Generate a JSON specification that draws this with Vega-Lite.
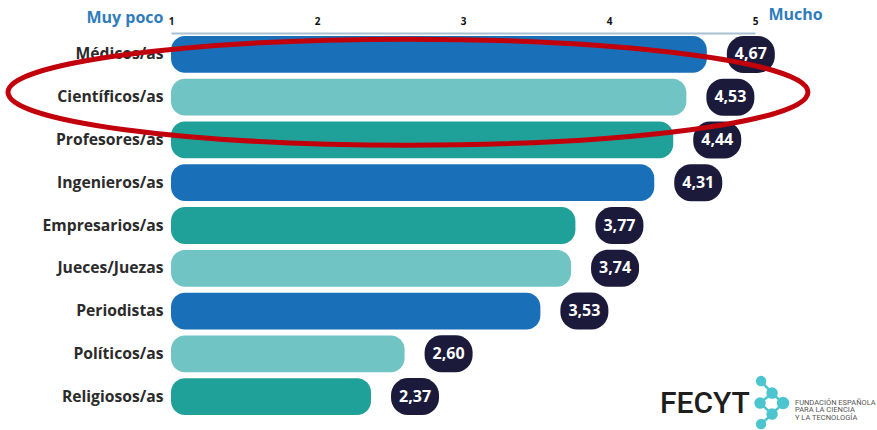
{
  "$schema": "https://vega.github.io/schema/vega-lite/v6.json",
  "width": 584,
  "height": 385,
  "autosize": {"type": "none"},
  "padding": {"left": 171, "top": 33, "right": 122, "bottom": 12},
  "background": "white",
  "config": {
    "view": {"stroke": null},
    "locale": {"number": {"decimal": ",", "thousands": ".", "grouping": [3], "currency": ["", " €"]}},
    "font": "Open Sans"
  },
  "data": {
    "values": [
      {"profesion": "Médicos/as", "valor": 4.67},
      {"profesion": "Científicos/as", "valor": 4.53},
      {"profesion": "Profesores/as", "valor": 4.44},
      {"profesion": "Ingenieros/as", "valor": 4.31},
      {"profesion": "Empresarios/as", "valor": 3.77},
      {"profesion": "Jueces/Juezas", "valor": 3.74},
      {"profesion": "Periodistas", "valor": 3.53},
      {"profesion": "Políticos/as", "valor": 2.60},
      {"profesion": "Religiosos/as", "valor": 2.37}
    ]
  },
  "encoding": {
    "y": {
      "field": "profesion",
      "type": "nominal",
      "sort": null,
      "scale": {
        "domain": ["Médicos/as", "Científicos/as", "Profesores/as", "Ingenieros/as", "Empresarios/as", "Jueces/Juezas", "Periodistas", "Políticos/as", "Religiosos/as"],
        "paddingInner": 0.14,
        "paddingOuter": 0.07
      },
      "axis": {
        "title": "Muy poco",
        "titleAngle": 0,
        "titleAlign": "right",
        "titleBaseline": "middle",
        "titleX": -8,
        "titleY": -16,
        "titleColor": "#2f7cbd",
        "titleFont": "Open Sans",
        "titleFontSize": 16,
        "titleFontWeight": "bold",
        "domain": false,
        "ticks": false,
        "grid": false,
        "labelPadding": 8,
        "labelFont": "Open Sans",
        "labelFontSize": 15.7,
        "labelFontWeight": "bold",
        "labelColor": "#2b2b2b"
      }
    }
  },
  "layer": [
    {
      "mark": {"type": "bar", "cornerRadiusEnd": 14},
      "encoding": {
        "x": {
          "field": "valor",
          "type": "quantitative",
          "scale": {"domain": [1, 5], "nice": false, "zero": false},
          "axis": {
            "orient": "top",
            "values": [1, 2, 3, 4, 5],
            "format": ".0f",
            "title": "Mucho",
            "titleX": 597,
            "titleY": -19,
            "titleAlign": "left",
            "titleBaseline": "middle",
            "titleColor": "#2f7cbd",
            "titleFont": "Open Sans",
            "titleFontSize": 16,
            "titleFontWeight": "bold",
            "domainColor": "#a9c1d2",
            "domainWidth": 2,
            "ticks": false,
            "grid": false,
            "labelFlush": false,
            "labelPadding": 7,
            "labelFont": "Open Sans",
            "labelFontSize": 10,
            "labelFontWeight": "bold",
            "labelColor": "#111111"
          }
        },
        "x2": {"datum": 1},
        "color": {
          "field": "profesion",
          "type": "nominal",
          "legend": null,
          "scale": {
            "domain": ["Médicos/as", "Científicos/as", "Profesores/as", "Ingenieros/as", "Empresarios/as", "Jueces/Juezas", "Periodistas", "Políticos/as", "Religiosos/as"],
            "range": ["#1a70b8", "#70c4c4", "#1fa199", "#1a70b8", "#1fa199", "#70c4c4", "#1a70b8", "#70c4c4", "#1fa199"]
          }
        }
      }
    },
    {
      "mark": {
        "type": "point",
        "shape": "M 0.74 -0.37 L 1.02 -0.37 C 1.2078 -0.37 1.36 -0.2178 1.36 -0.03 L 1.36 0.03 C 1.36 0.2178 1.2078 0.37 1.02 0.37 L 0.74 0.37 C 0.5522 0.37 0.40 0.2178 0.40 0.03 L 0.40 -0.03 C 0.40 -0.2178 0.5522 -0.37 0.74 -0.37 Z",
        "size": 10000,
        "filled": true,
        "color": "#1b1a3b",
        "opacity": 1,
        "strokeWidth": 0
      },
      "encoding": {
        "x": {"field": "valor", "type": "quantitative"}
      }
    },
    {
      "mark": {
        "type": "text",
        "dx": 44,
        "align": "center",
        "baseline": "middle",
        "font": "Open Sans",
        "fontSize": 16,
        "fontWeight": "bold",
        "color": "white"
      },
      "encoding": {
        "x": {"field": "valor", "type": "quantitative"},
        "text": {"field": "valor", "type": "quantitative", "format": ".2f"}
      }
    },
    {
      "data": {"values": [{"anotacion": "elipse"}]},
      "mark": {
        "type": "point",
        "shape": "M -1 -0.0125 C -1 -0.0857 -0.5523 -0.145 0 -0.145 C 0.5523 -0.145 1 -0.0857 1 -0.0125 C 1 0.0607 0.5523 0.12 0 0.12 C -0.5523 0.12 -1 0.0607 -1 -0.0125 Z",
        "size": 640000,
        "filled": false,
        "color": "#c2000c",
        "strokeWidth": 5,
        "opacity": 1
      },
      "encoding": {
        "x": {"datum": 2.623},
        "y": {"datum": "Científicos/as"}
      }
    },
    {
      "data": {"values": [{"logo": "FECYT"}]},
      "mark": {
        "type": "text",
        "align": "left",
        "baseline": "middle",
        "dy": 7,
        "font": "Roboto",
        "fontSize": 30,
        "fontWeight": 500,
        "color": "#1e1e1e"
      },
      "encoding": {
        "x": {"datum": 4.349},
        "y": {"datum": "Religiosos/as"},
        "text": {"field": "logo"}
      }
    },
    {
      "data": {"values": [{"logo": "icono"}]},
      "mark": {
        "type": "point",
        "shape": "M -0.56 -0.62 C -0.56 -0.7084 -0.4884 -0.78 -0.4 -0.78 C -0.3116 -0.78 -0.24 -0.7084 -0.24 -0.62 C -0.24 -0.5316 -0.3116 -0.46 -0.4 -0.46 C -0.4884 -0.46 -0.56 -0.5316 -0.56 -0.62 Z M -0.14 -0.14 C -0.14 -0.2394 -0.0594 -0.32 0.04 -0.32 C 0.1394 -0.32 0.22 -0.2394 0.22 -0.14 C 0.22 -0.0406 0.1394 0.04 0.04 0.04 C -0.0594 0.04 -0.14 -0.0406 -0.14 -0.14 Z M 0.28 0.26 C 0.28 0.1495 0.3695 0.06 0.48 0.06 C 0.5905 0.06 0.68 0.1495 0.68 0.26 C 0.68 0.3705 0.5905 0.46 0.48 0.46 C 0.3695 0.46 0.28 0.3705 0.28 0.26 Z M -0.62 0.26 C -0.62 0.1606 -0.5394 0.08 -0.44 0.08 C -0.3406 0.08 -0.26 0.1606 -0.26 0.26 C -0.26 0.3594 -0.3406 0.44 -0.44 0.44 C -0.5394 0.44 -0.62 0.3594 -0.62 0.26 Z M -0.14 0.7 C -0.14 0.6006 -0.0594 0.52 0.04 0.52 C 0.1394 0.52 0.22 0.6006 0.22 0.7 C 0.22 0.7994 0.1394 0.88 0.04 0.88 C -0.0594 0.88 -0.14 0.7994 -0.14 0.7 Z M -0.56 1.1 C -0.56 1.0116 -0.4884 0.94 -0.4 0.94 C -0.3116 0.94 -0.24 1.0116 -0.24 1.1 C -0.24 1.1884 -0.3116 1.26 -0.4 1.26 C -0.4884 1.26 -0.56 1.1884 -0.56 1.1 Z M -0.4 -0.62 L 0.04 -0.14 M 0.04 -0.14 L 0.48 0.26 M 0.48 0.26 L 0.04 0.7 M 0.04 0.7 L -0.4 1.1 M 0.04 -0.14 L -0.44 0.26 M -0.44 0.26 L 0.04 0.7",
        "size": 2500,
        "filled": true,
        "fill": "#4cc5cf",
        "stroke": "#4cc5cf",
        "strokeWidth": 2.5,
        "opacity": 1
      },
      "encoding": {
        "x": {"datum": 5.11},
        "y": {"datum": "Religiosos/as"}
      }
    },
    {
      "data": {"values": [{"logo": "texto"}]},
      "mark": {
        "type": "text",
        "align": "left",
        "baseline": "middle",
        "dy": 6,
        "lineHeight": 7.5,
        "font": "Roboto",
        "fontSize": 7.5,
        "color": "#555555",
        "text": ["FUNDACIÓN ESPAÑOLA", "PARA LA CIENCIA", "Y LA TECNOLOGÍA"]
      },
      "encoding": {
        "x": {"datum": 5.274},
        "y": {"datum": "Religiosos/as"}
      }
    }
  ]
}
